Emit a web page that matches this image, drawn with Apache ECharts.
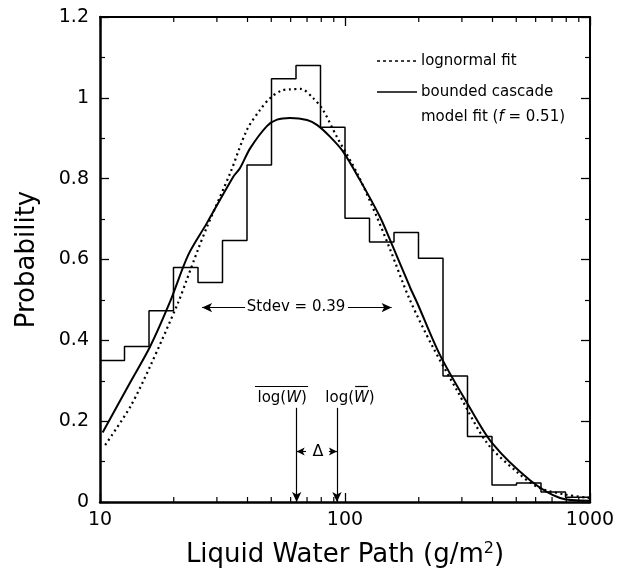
<!DOCTYPE html>
<html><head><meta charset="utf-8">
<script src="https://cdn.jsdelivr.net/npm/echarts@6/dist/echarts.min.js"></script>
<style>html,body{margin:0;padding:0;background:#fff}#c{width:623px;height:582px}</style>
</head><body><div id="c"></div>
<script>
// ---- data ----
const binEdges = [10, 12.59, 15.85, 19.95, 25.12, 31.62, 39.81, 50.12, 63.1, 79.43, 100,
                  125.9, 158.5, 199.5, 251.2, 316.2, 398.1, 501.2, 631, 794.3, 1000];
const binValues = [0.35, 0.385, 0.473, 0.58, 0.543, 0.647, 0.834, 1.047, 1.08, 0.927,
                   0.702, 0.643, 0.667, 0.603, 0.312, 0.162, 0.042, 0.047, 0.025, 0.012];
const lognormalW = [10.5, 13.3, 16.0, 20.8, 22.6, 25.1, 27.3, 34.0, 39.8, 45.0, 49.4, 55, 59.7, 66,
                    74, 81.3, 92.7, 112, 135, 153, 184, 228, 286, 380, 504, 620, 800, 1000];
const lognormalP = [0.141, 0.236, 0.335, 0.492, 0.55, 0.624, 0.68, 0.814, 0.921, 0.97, 0.999, 1.018, 1.021, 1.022,
                    1.0, 0.97, 0.903, 0.814, 0.705, 0.624, 0.5, 0.384, 0.277, 0.146, 0.074, 0.035, 0.018, 0.01];
const cascadeW = [10.25, 13.26, 16.0, 19.3, 22.9, 27.3, 35.0, 37.2, 41, 48, 52.8, 59.7, 70, 76.8,
                  86.8, 97.9, 115, 139, 157, 184, 197, 244, 315, 398, 569, 755, 1000];
const cascadeP = [0.172, 0.295, 0.384, 0.495, 0.611, 0.69, 0.805, 0.825, 0.875, 0.93, 0.946, 0.95, 0.945, 0.933,
                  0.904, 0.868, 0.797, 0.705, 0.631, 0.532, 0.493, 0.364, 0.245, 0.146, 0.054, 0.01, 0.003];
const xMinorTicks = [20, 30, 40, 50, 60, 70, 80, 90, 200, 300, 400, 500, 600, 700, 800, 900];
const xTickLabels = {10: '10', 100: '100', 1000: '1000'};
const yTickLabels = ['0', '0.2', '0.4', '0.6', '0.8', '1', '1.2'];

// annotations (data coordinates)
const stdevY = 0.481, stdevFrom = 26.1, stdevTo = 155, stdevGapL = 39.1, stdevGapR = 102.8, stdevTextX = 63.1;
const meanLogW = 63.5, logMeanW = 92.7, arrowTopY = 0.233;
const deltaY = 0.125, deltaInL = 69.3, deltaInR = 86.0, deltaTextX = 77.6;
const label1X = 55.4, label2X = 104.8, labelY = 0.257;
const over1 = [42.9, 70.7], over2 = [110, 124], overY = 0.287;

const FONT = 'DejaVu Sans';
const chart = echarts.init(document.getElementById('c'), null, {renderer: 'canvas'});

const histData = binEdges.map((e, i) => [e, binValues[Math.min(i, binValues.length - 1)]]);
const lognData = lognormalW.map((w, i) => [w, lognormalP[i]]);
const cascData = cascadeW.map((w, i) => [w, cascadeP[i]]);

const axisBase = {
  axisLine: {show: true, onZero: false, lineStyle: {color: '#000', width: 2.5}},
  axisTick: {show: true, inside: true, length: 9, lineStyle: {color: '#000', width: 1.3}},
  splitLine: {show: false}
};

const option = {
  animation: false,
  backgroundColor: '#fff',
  grid: {left: 100, right: 33, top: 17, bottom: 80, containLabel: false, outerBoundsMode: 'none'},
  xAxis: [
    Object.assign({}, axisBase, {
      type: 'log', logBase: 10, min: 10, max: 1000, position: 'bottom',
      axisLabel: {color: '#000', fontFamily: FONT, fontSize: 19, margin: 9,
        formatter: (v) => xTickLabels[Math.round(v)] || String(Math.round(v))},
      name: '{t|Liquid Water Path (g/m}{s|2}{t|)}',
      nameLocation: 'middle', nameGap: 39,
      nameTextStyle: {color: '#000', fontFamily: FONT, fontSize: 26,
        rich: {t: {fontFamily: FONT, fontSize: 26, color: '#000'},
               s: {fontFamily: FONT, fontSize: 16, color: '#000', verticalAlign: 'top', padding: [0, 0, 12, 0]}}}
    }),
    Object.assign({}, axisBase, {
      type: 'log', logBase: 10, min: 10, max: 1000, position: 'top',
      axisLine: {show: true, onZero: false, lineStyle: {color: '#000', width: 2}},
      axisLabel: {show: false}
    })
  ],
  yAxis: [
    Object.assign({}, axisBase, {
      type: 'value', min: 0, max: 1.2, interval: 0.2, position: 'left',
      minorTick: {show: true, splitNumber: 2, length: 5, lineStyle: {color: '#000', width: 1.2}},
      axisLabel: {color: '#000', fontFamily: FONT, fontSize: 19, margin: 11,
        formatter: (v) => yTickLabels[Math.round(v / 0.2)]},
      name: 'Probability', nameLocation: 'middle', nameGap: 60, nameRotate: 90,
      nameTextStyle: {color: '#000', fontFamily: FONT, fontSize: 26}
    }),
    Object.assign({}, axisBase, {
      type: 'value', min: 0, max: 1.2, interval: 0.2, position: 'right',
      axisLine: {show: true, onZero: false, lineStyle: {color: '#000', width: 2}},
      minorTick: {show: true, splitNumber: 2, length: 5, lineStyle: {color: '#000', width: 1.2}},
      axisLabel: {show: false}
    })
  ],
  series: [
    {
      name: 'histogram', type: 'line', step: 'end', data: histData, symbol: 'none',
      lineStyle: {color: '#000', width: 1.5}, z: 3
    },
    {
      name: 'lognormal fit', type: 'line', data: lognData, symbol: 'none', smooth: 0.3,
      lineStyle: {color: '#000', width: 2.2, type: [2, 3.5]}, z: 4
    },
    {
      name: 'bounded cascade model fit', type: 'line', data: cascData, symbol: 'none', smooth: 0.3,
      lineStyle: {color: '#000', width: 2}, z: 5,
      markLine: {
        silent: true, animation: false, symbol: ['none', 'arrow'], symbolSize: [7, 10],
        lineStyle: {color: '#000', width: 1.2, type: 'solid'},
        label: {show: false},
        emphasis: {disabled: true},
        data: [
          [{coord: [stdevGapL, stdevY]}, {coord: [stdevFrom, stdevY]}],
          [{coord: [stdevGapR, stdevY]}, {coord: [stdevTo, stdevY]}],
          [{coord: [meanLogW, arrowTopY]}, {coord: [meanLogW, 0]}],
          [{coord: [logMeanW, arrowTopY]}, {coord: [logMeanW, 0]}],
          [{coord: [deltaInL, deltaY], symbolSize: 7}, {coord: [meanLogW, deltaY], symbolSize: [6, 8]}],
          [{coord: [deltaInR, deltaY], symbolSize: 7}, {coord: [logMeanW, deltaY], symbolSize: [6, 8]}],
          [{coord: [over1[0], overY], symbol: 'none'}, {coord: [over1[1], overY], symbol: 'none'}],
          [{coord: [over2[0], overY], symbol: 'none'}, {coord: [over2[1], overY], symbol: 'none'}]
        ]
      },
      markPoint: {
        silent: true, animation: false, symbol: 'circle', symbolSize: 0,
        itemStyle: {color: 'rgba(0,0,0,0)'},
        label: {show: true, position: 'inside', color: '#000', fontFamily: FONT, fontSize: 15,
          rich: {n: {fontFamily: FONT, fontSize: 15, color: '#000'},
                 i: {fontFamily: FONT, fontSize: 15, color: '#000', fontStyle: 'italic'},
                 d: {fontFamily: FONT, fontSize: 16, color: '#000'}}},
        data: [
          {coord: [stdevTextX, stdevY], label: {formatter: '{n|Stdev = 0.39}'}},
          {coord: [label1X, labelY], label: {formatter: '{n|log(}{i|W}{n|)}'}},
          {coord: [label2X, labelY], label: {formatter: '{n|log(}{i|W}{n|)}'}},
          {coord: [deltaTextX, deltaY], label: {formatter: '{d|Δ}'}}
        ]
      }
    },
    {
      name: 'minor ticks', type: 'custom', clip: false, silent: true, z: 6,
      data: xMinorTicks.map(v => [v, 0]),
      renderItem: function (params, api) {
        const v = api.value(0);
        const pb = api.coord([v, 0]);
        const pt = api.coord([v, 1.2]);
        const st = {stroke: '#000', lineWidth: 1.2};
        return {type: 'group', children: [
          {type: 'line', shape: {x1: pb[0], y1: pb[1], x2: pb[0], y2: pb[1] - 5}, style: st},
          {type: 'line', shape: {x1: pt[0], y1: pt[1], x2: pt[0], y2: pt[1] + 5}, style: st}
        ]};
      }
    }
  ],
  graphic: [
    {type: 'line', shape: {x1: 377, y1: 61, x2: 417, y2: 61}, style: {stroke: '#000', lineWidth: 1.5, lineDash: [3, 3]}},
    {type: 'text', x: 421, y: 61, style: {text: 'lognormal fit', fontFamily: FONT, fontSize: 15, fill: '#000', verticalAlign: 'middle'}},
    {type: 'line', shape: {x1: 377, y1: 92, x2: 417, y2: 92}, style: {stroke: '#000', lineWidth: 1.5}},
    {type: 'text', x: 421, y: 92, style: {text: 'bounded cascade', fontFamily: FONT, fontSize: 15, fill: '#000', verticalAlign: 'middle'}},
    {type: 'text', x: 421, y: 117, style: {
      text: '{n|model fit (}{i|f}{n| = 0.51)}', verticalAlign: 'middle', fill: '#000',
      rich: {n: {fontFamily: FONT, fontSize: 15, fill: '#000'}, i: {fontFamily: FONT, fontSize: 15, fontStyle: 'italic', fill: '#000'}}}}
  ]
};
chart.setOption(option);
</script>
</body></html>
